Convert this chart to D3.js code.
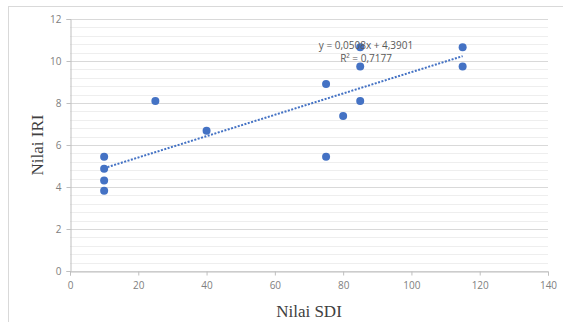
<!DOCTYPE html>
<html>
<head>
<meta charset="utf-8">
<script src="https://cdn.jsdelivr.net/npm/d3@7"></script>
<style>
  body { margin: 0; background: #fff; }
  svg { display: block; }
</style>
</head>
<body>
<div id="chart"></div>
<script>
// data
var sdiValues = [10, 10, 10, 10, 25, 40, 75, 75, 80, 85, 85, 85, 115, 115];
var iriValues = [5.44, 4.87, 4.31, 3.82, 8.1, 6.68, 8.91, 5.44, 7.38, 8.1, 10.66, 9.74, 10.66, 9.74];
var xTicks = [0, 20, 40, 60, 80, 100, 120, 140];
var yTicks = [0, 2, 4, 6, 8, 10, 12];
var trendSlope = 0.0508, trendIntercept = 4.3901;
var trendText = ["y = 0,0508x + 4,3901", "R² = 0,7177"];

var width = 563, height = 322;
var margin = {top: 19, right: 15, bottom: 51, left: 70};

var svg = d3.select("#chart").append("svg")
	.attr("width", width)
	.attr("height", height);

// outer chart border
svg.append("rect")
	.attr("x", 8.5).attr("y", 6.5)
	.attr("width", width).attr("height", height)
	.attr("fill", "none")
	.attr("stroke", "#d9d9d9");

var x = d3.scaleLinear().domain([0, 140]).range([margin.left, width - margin.right]);
var y = d3.scaleLinear().domain([0, 12]).range([height - margin.bottom, margin.top]);

// minor gridlines
svg.append("g")
	.selectAll("line")
	.data(d3.range(0, 12.01, 0.4))
	.join("line")
	.attr("x1", x(0)).attr("x2", x(140))
	.attr("y1", d => Math.round(y(d)) + 0.5)
	.attr("y2", d => Math.round(y(d)) + 0.5)
	.attr("stroke", "#eeeeee");

// major gridlines
svg.append("g")
	.selectAll("line")
	.data(yTicks)
	.join("line")
	.attr("x1", x(0)).attr("x2", x(140))
	.attr("y1", d => Math.round(y(d)) + 0.5)
	.attr("y2", d => Math.round(y(d)) + 0.5)
	.attr("stroke", "#d9d9d9");

// axes
var xAxis = svg.append("g")
	.attr("transform", "translate(0," + (Math.round(y(0)) + 0.5) + ")")
	.call(d3.axisBottom(x).tickValues(xTicks).tickSize(4).tickPadding(6));
var yAxis = svg.append("g")
	.attr("transform", "translate(" + (Math.round(x(0)) + 0.5) + ",0)")
	.call(d3.axisLeft(y).tickValues(yTicks).tickSize(4).tickPadding(5));

[xAxis, yAxis].forEach(function(a) {
	a.select(".domain").attr("stroke", "#bfbfbf");
	a.selectAll(".tick line").attr("stroke", "#bfbfbf");
	a.selectAll(".tick text")
		.attr("fill", "#808080")
		.style("font-family", "'Open Sans', 'Liberation Sans', sans-serif")
		.style("font-size", "10px");
});

// trendline
svg.append("path")
	.datum([d3.min(sdiValues), d3.max(sdiValues)])
	.attr("fill", "none")
	.attr("stroke", "#4472c4")
	.attr("stroke-width", 2)
	.attr("stroke-dasharray", "2,1.5")
	.attr("d", d3.line()
		.x(d => x(d))
		.y(d => y(trendSlope * d + trendIntercept)));

// points
svg.append("g")
	.selectAll("circle")
	.data(sdiValues)
	.join("circle")
	.attr("cx", d => x(d))
	.attr("cy", (d, i) => y(iriValues[i]))
	.attr("r", 4)
	.attr("fill", "#4472c4");

// equation label
svg.append("g")
	.selectAll("text")
	.data(trendText)
	.join("text")
	.attr("x", 366)
	.attr("y", (d, i) => 49 + i * 13)
	.attr("text-anchor", "middle")
	.attr("fill", "#595959")
	.style("font-family", "'Open Sans', 'Liberation Sans', sans-serif")
	.style("font-size", "10px")
	.text(d => d);

// axis titles
svg.append("text")
	.attr("x", (x(0) + x(140)) / 2)
	.attr("y", 317)
	.attr("text-anchor", "middle")
	.attr("fill", "#404040")
	.style("font-family", "'Liberation Serif', serif")
	.style("font-size", "17px")
	.text("Nilai SDI");

svg.append("text")
	.attr("transform", "translate(43," + (y(6)) + ") rotate(-90)")
	.attr("text-anchor", "middle")
	.attr("fill", "#404040")
	.style("font-family", "'Liberation Serif', serif")
	.style("font-size", "17px")
	.text("Nilai IRI");
</script>
</body>
</html>
